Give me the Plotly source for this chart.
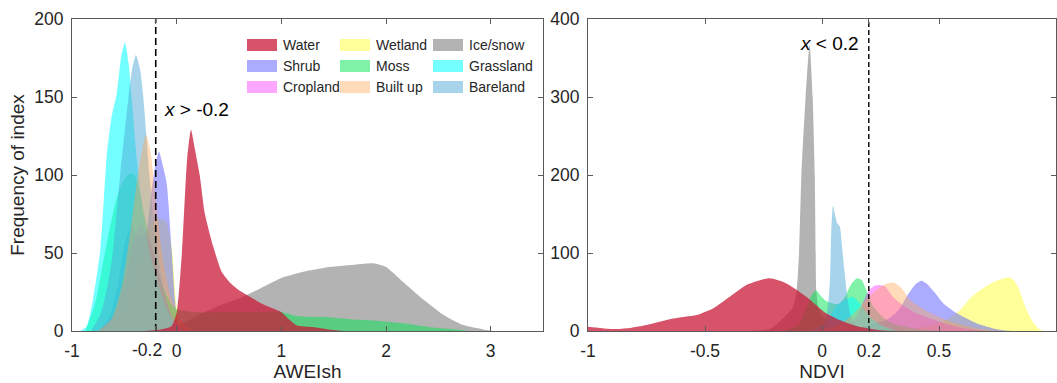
import plotly.graph_objects as go
from plotly.subplots import make_subplots

# ---------------- data ----------------
classes = ["Water", "Wetland", "Ice/snow", "Shrub", "Moss", "Grassland",
           "Cropland", "Built up", "Bareland"]

# AWEIsh panel (x values, frequency values)
water_awei_x = [-0.3, -0.15, -0.05, 0.0, 0.05, 0.1, 0.137, 0.17, 0.22, 0.27, 0.35, 0.43, 0.51, 0.6, 0.7, 0.8, 0.9, 1.0, 1.08, 1.15, 1.3, 1.45, 1.6]
water_awei_y = [0, 1, 3, 12, 50, 110, 129, 118, 100, 75, 54, 38, 31, 26, 22, 18, 15, 12, 7, 3.5, 2.5, 1, 0]
wetland_awei_x = [-0.7, -0.55, -0.45, -0.35, -0.25, -0.17, -0.1, -0.07, -0.04, -0.01, 0.02, 0.05]
wetland_awei_y = [0, 8, 25, 50, 68, 72, 70, 62, 50, 22, 6, 0]
ice_awei_x = [-0.2, 0.0, 0.2, 0.4, 0.6, 0.7, 0.85, 1.0, 1.21, 1.46, 1.72, 1.88, 2.0, 2.16, 2.36, 2.55, 2.74, 2.93, 3.02]
ice_awei_y = [0, 3, 10, 16, 21, 24, 29, 34, 38, 41, 42.7, 43.4, 41, 31.6, 20, 10.3, 3.8, 1, 0]
shrub_awei_x = [-0.75, -0.65, -0.56, -0.5, -0.43, -0.37, -0.3, -0.24, -0.2, -0.169, -0.14, -0.096, -0.048, -0.016, 0.01, 0.05]
shrub_awei_y = [0, 8, 30, 55, 68, 60, 62, 90, 108, 115, 108, 95, 52, 20, 5, 0]
moss_awei_x = [-0.87, -0.77, -0.7, -0.62, -0.55, -0.47, -0.414, -0.36, -0.3, -0.22, -0.14, -0.06, 0.0, 0.2, 0.5, 0.8, 0.99, 1.15, 1.46, 1.66, 1.94, 2.16, 2.42, 2.67, 2.8]
moss_awei_y = [0, 20, 45, 72, 90, 100, 101, 92, 72, 48, 30, 18, 14, 12, 12, 12, 12.4, 9.6, 8.8, 7.5, 6.4, 4.9, 2.4, 1, 0]
grass_awei_x = [-0.92, -0.86, -0.8, -0.73, -0.668, -0.62, -0.573, -0.53, -0.494, -0.46, -0.43, -0.38, -0.32, -0.25, -0.17, -0.08, 0.0, 0.08]
grass_awei_y = [0, 3, 20, 52, 112, 138, 152, 176, 185, 172, 150, 110, 75, 48, 28, 12, 4, 0]
crop_awei_x = [-0.75, -0.6, -0.5, -0.42, -0.35, -0.28, -0.2, -0.12, -0.05, 0.05]
crop_awei_y = [0, 10, 30, 55, 68, 62, 45, 25, 10, 0]
built_awei_x = [-0.75, -0.62, -0.52, -0.43, -0.36, -0.293, -0.25, -0.2, -0.13, -0.05, 0.05, 0.15]
built_awei_y = [0, 8, 30, 70, 105, 126, 115, 85, 45, 20, 6, 0]
bare_awei_x = [-0.82, -0.72, -0.62, -0.54, -0.46, -0.42, -0.389, -0.35, -0.319, -0.26, -0.2, -0.12, -0.04, 0.05]
bare_awei_y = [0, 12, 45, 100, 150, 170, 177, 168, 150, 100, 60, 25, 8, 0]

# NDVI panel
water_ndvi_x = [-1.0, -0.95, -0.893, -0.82, -0.75, -0.636, -0.537, -0.466, -0.394, -0.323, -0.224, -0.152, -0.067, 0.018, 0.075, 0.15, 0.25, 0.35]
water_ndvi_y = [5.5, 4, 2.5, 4, 7.7, 16, 20.5, 29, 44, 59, 67.5, 61, 44, 22.6, 14, 6, 1, 0]
wetland_ndvi_x = [0.3, 0.4, 0.5, 0.55, 0.59, 0.64, 0.71, 0.76, 0.8, 0.82, 0.84, 0.87, 0.9, 0.93, 0.95]
wetland_ndvi_y = [0, 3, 10, 18, 27, 44, 59, 66, 69, 65, 55, 30, 12, 2, 0]
ice_ndvi_x = [-0.3, -0.22, -0.16, -0.125, -0.109, -0.098, -0.088, -0.07, -0.053, -0.04, -0.031, -0.027, -0.024, -0.015, 0.0, 0.03, 0.07, 0.12]
ice_ndvi_y = [0, 3, 18, 30, 50, 100, 200, 300, 367, 300, 200, 100, 50, 30, 20, 10, 3, 0]
shrub_ndvi_x = [0.1, 0.2, 0.28, 0.33, 0.37, 0.4, 0.425, 0.45, 0.48, 0.52, 0.575, 0.66, 0.75, 0.82]
shrub_ndvi_y = [0, 8, 15, 28, 48, 60, 64.5, 60, 50, 35, 23, 10, 2, 0]
moss_ndvi_x = [-0.17, -0.1, -0.06, -0.04, -0.024, -0.005, 0.02, 0.05, 0.075, 0.1, 0.125, 0.15, 0.17, 0.19, 0.22, 0.26, 0.3, 0.4, 0.5]
moss_ndvi_y = [0, 8, 35, 48, 52, 45, 38, 35, 35, 45, 60, 67.5, 65, 52, 31, 18, 10, 3, 0]
grass_ndvi_x = [-0.05, 0.02, 0.06, 0.1, 0.13, 0.16, 0.2, 0.25, 0.32]
grass_ndvi_y = [0, 12, 32, 40, 44, 36, 20, 8, 0]
crop_ndvi_x = [0.05, 0.1, 0.15, 0.18, 0.2, 0.225, 0.247, 0.27, 0.3, 0.35, 0.4, 0.5, 0.6, 0.7]
crop_ndvi_y = [0, 5, 20, 40, 52, 58, 59, 57, 45, 32, 23, 12, 4, 0]
built_ndvi_x = [-0.05, 0.05, 0.12, 0.18, 0.23, 0.27, 0.306, 0.34, 0.375, 0.45, 0.55, 0.65, 0.75]
built_ndvi_y = [0, 5, 18, 37, 52, 60, 62, 55, 40, 25, 12, 4, 0]
bare_ndvi_x = [-0.03, 0.0, 0.02, 0.033, 0.04, 0.047, 0.055, 0.065, 0.076, 0.085, 0.095, 0.105, 0.115, 0.13, 0.16, 0.22]
bare_ndvi_y = [0, 5, 20, 60, 130, 161, 150, 138, 134, 110, 80, 52, 30, 12, 4, 0]

awei_ticks = [-1, -0.2, 0, 1, 2, 3]
awei_ticktext = ["-1", "", "0", "1", "2", "3"]   # "-0.2" is placed as its own label below
awei_offset_label = "-0.2"
ndvi_ticks = [-1, -0.5, 0, 0.2, 0.5]
ndvi_ticktext = ["-1", "-0.5", "0", "0.2", "0.5"]
awei_yticks = [0, 50, 100, 150, 200]
ndvi_yticks = [0, 100, 200, 300, 400]
awei_threshold = -0.2
ndvi_threshold = 0.2

# ---------------- style ----------------
colors = {
    "Water": "rgba(200,25,55,0.75)",
    "Wetland": "rgba(255,255,0,0.4)",
    "Ice/snow": "rgba(128,128,128,0.6)",
    "Shrub": "rgba(90,90,255,0.5)",
    "Moss": "rgba(0,230,80,0.5)",
    "Grassland": "rgba(0,255,255,0.55)",
    "Cropland": "rgba(255,0,255,0.35)",
    "Built up": "rgba(255,165,80,0.4)",
    "Bareland": "rgba(80,170,215,0.5)",
}

awei_data = {
    "Wetland": (wetland_awei_x, wetland_awei_y),
    "Ice/snow": (ice_awei_x, ice_awei_y),
    "Shrub": (shrub_awei_x, shrub_awei_y),
    "Moss": (moss_awei_x, moss_awei_y),
    "Cropland": (crop_awei_x, crop_awei_y),
    "Grassland": (grass_awei_x, grass_awei_y),
    "Bareland": (bare_awei_x, bare_awei_y),
    "Built up": (built_awei_x, built_awei_y),
    "Water": (water_awei_x, water_awei_y),
}
ndvi_data = {
    "Wetland": (wetland_ndvi_x, wetland_ndvi_y),
    "Ice/snow": (ice_ndvi_x, ice_ndvi_y),
    "Shrub": (shrub_ndvi_x, shrub_ndvi_y),
    "Moss": (moss_ndvi_x, moss_ndvi_y),
    "Cropland": (crop_ndvi_x, crop_ndvi_y),
    "Grassland": (grass_ndvi_x, grass_ndvi_y),
    "Bareland": (bare_ndvi_x, bare_ndvi_y),
    "Built up": (built_ndvi_x, built_ndvi_y),
    "Water": (water_ndvi_x, water_ndvi_y),
}

W, H = 1057, 383
ML, MR, MT, MB = 72, 1, 19, 52
PW, PH = W - ML - MR, H - MT - MB
FONT = "Liberation Sans, Arial, sans-serif"
TXT = "#262626"
AX = "#5a5a5a"
TICK_SIZE = 17.5

fig = make_subplots(rows=1, cols=2)

for col, data in ((1, awei_data), (2, ndvi_data)):
    for name, (xs, ys) in data.items():
        fig.add_trace(go.Scatter(
            x=xs, y=ys, name=name, mode="lines",
            line=dict(width=0, shape="spline", smoothing=0.6),
            fill="tozeroy", fillcolor=colors[name],
            showlegend=False, hoverinfo="x+y+name"), row=1, col=col)

# threshold lines
fig.add_trace(go.Scatter(x=[awei_threshold, awei_threshold], y=[0, 200], mode="lines",
                         line=dict(color="black", width=1.6, dash="7px,4px"),
                         showlegend=False, hoverinfo="skip"), row=1, col=1)
fig.add_trace(go.Scatter(x=[ndvi_threshold, ndvi_threshold], y=[0, 400], mode="lines",
                         line=dict(color="black", width=1.4, dash="5px,3px"),
                         showlegend=False, hoverinfo="skip"), row=1, col=2)

axis_common = dict(showline=True, linecolor=AX, linewidth=1, mirror="ticks",
                   ticks="inside", ticklen=5, tickcolor=AX, showgrid=False,
                   zeroline=False, automargin=False,
                   tickfont=dict(size=TICK_SIZE, color=TXT, family=FONT))

fig.update_xaxes(**axis_common)
fig.update_yaxes(**axis_common)

title_font = dict(size=19, color=TXT, family=FONT)
fig.update_layout(
    xaxis=dict(domain=[0, (543 - ML) / PW], range=[-1, 3.5], tickvals=awei_ticks,
               ticktext=awei_ticktext, tickangle=0, ticklabelstandoff=4,
               title=dict(text="AWEIsh", font=title_font, standoff=4)),
    xaxis2=dict(domain=[(588 - ML) / PW, 1.0], range=[-1, 1], tickvals=ndvi_ticks,
                ticktext=ndvi_ticktext, tickangle=0, ticklabelstandoff=4,
                title=dict(text="NDVI", font=title_font, standoff=4)),
    yaxis=dict(domain=[0, 1], range=[0, 200], tickvals=awei_yticks,
               ticklabelstandoff=4,
               title=dict(text="Frequency of index", font=title_font, standoff=4)),
    yaxis2=dict(domain=[0, 1], range=[0, 400], tickvals=ndvi_yticks,
                ticklabelstandoff=4),
    width=W, height=H,
    margin=dict(l=ML, r=MR, t=MT, b=MB, autoexpand=False),
    plot_bgcolor="white", paper_bgcolor="white",
    font=dict(family=FONT, color=TXT),
    showlegend=False,
)

# "-0.2" tick label, set slightly left of its tick as in the original
fig.add_annotation(x=awei_threshold, xref="x", y=0, yref="paper", xshift=-9, yshift=-7,
                   text=awei_offset_label, showarrow=False, xanchor="center", yanchor="top",
                   font=dict(size=TICK_SIZE, color=TXT, family=FONT))

# threshold labels
fig.add_annotation(x=awei_threshold + 0.058, y=141.7, xref="x", yref="y",
                   text="<i>x</i> > -0.2", showarrow=False, xanchor="left", yanchor="middle",
                   font=dict(size=19, color="black", family=FONT))
fig.add_annotation(x=-0.1026, y=368.8, xref="x2", yref="y2",
                   text="<i>x</i> < 0.2", showarrow=False, xanchor="left", yanchor="middle",
                   font=dict(size=19, color="black", family=FONT))

# manual 3x3 legend (row-wise order), positioned in pixels of the page
legend_order = ["Water", "Wetland", "Ice/snow", "Shrub", "Moss", "Grassland",
                "Cropland", "Built up", "Bareland"]
col_px = [247, 340, 433]
row_py = [45, 66, 87]


def px_x(p):
    return (p - ML) / PW


def px_y(p):
    return 1 - (p - MT) / PH


for i, name in enumerate(legend_order):
    r, c = divmod(i, 3)
    x0 = col_px[c]
    yc = row_py[r]
    fig.add_shape(type="rect", xref="paper", yref="paper",
                  x0=px_x(x0), x1=px_x(x0 + 30),
                  y0=px_y(yc + 6), y1=px_y(yc - 6),
                  fillcolor=colors[name], line=dict(width=0))
    fig.add_annotation(x=px_x(x0 + 34), y=px_y(yc), xref="paper", yref="paper",
                       text=name, showarrow=False, xanchor="left", yanchor="middle",
                       font=dict(size=14, color=TXT, family=FONT))

fig.write_html("out.html", config={"displayModeBar": False},
               post_script="document.body.style.margin='0px';document.body.style.overflow='hidden';")
